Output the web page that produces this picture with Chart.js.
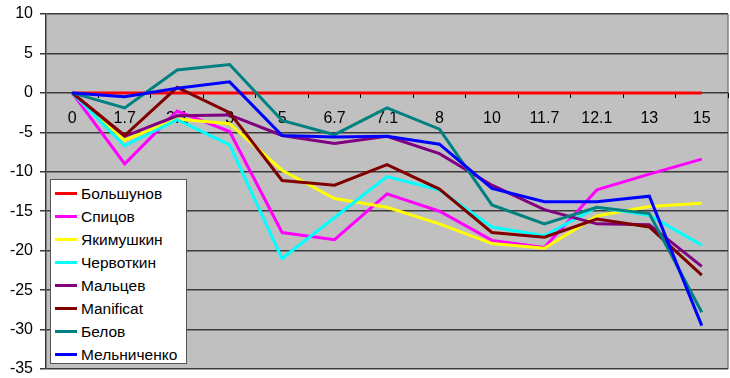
<!DOCTYPE html>
<html>
<head>
<meta charset="utf-8">
<script src="https://cdn.jsdelivr.net/npm/chart.js@4.4.0/dist/chart.umd.min.js"></script>
<style>
  html, body { margin: 0; padding: 0; background: #fff; }
  #wrap { position: relative; width: 730px; height: 378px; }
  #legend {
    position: absolute; left: 50px; top: 179px; width: 137px; height: 185px;
    background: #fff; border: 1px solid #555; box-sizing: border-box;
    font-family: Arial, "Liberation Sans", sans-serif; font-size: 15.5px; color: #000;
    padding-top: 2px;
  }
  .row { display: flex; align-items: center; height: 23px; }
  .swatch { width: 22px; height: 3px; margin-left: 4px; margin-right: 4px; }
</style>
</head>
<body>
<div id="wrap">
  <canvas id="chart" width="730" height="378"></canvas>
  <div id="legend"></div>
</div>
<script>
// ── data ──
const categories = ['0', '1.7', '2.1', '3', '5', '6.7', '7.1', '8', '10', '11.7', '12.1', '13', '15'];

const bolshunov   = [0, 0, 0, 0, 0, 0, 0, 0, 0, 0, 0, 0, 0];
const spitsov     = [0, -9.0, -2.3, -4.9, -17.7, -18.6, -12.8, -15.0, -18.7, -19.6, -12.3, -10.3, -8.4];
const yakimushkin = [0, -6.0, -3.3, -3.9, -9.8, -13.4, -14.5, -16.6, -19.1, -19.7, -15.6, -14.4, -14.0];
const chervotkin  = [0, -6.7, -3.4, -6.6, -21.0, -15.8, -10.6, -12.3, -17.0, -18.1, -14.5, -15.5, -19.3];
const maltsev     = [0, -5.5, -2.9, -2.8, -5.4, -6.4, -5.5, -7.7, -11.7, -14.8, -16.6, -16.7, -22.0];
const manificat   = [0, -5.4, 0.7, -2.5, -11.1, -11.7, -9.1, -12.2, -17.7, -18.3, -16.0, -17.0, -23.1];
const belov       = [0, -1.9, 2.9, 3.6, -3.5, -5.3, -1.9, -4.6, -14.2, -16.6, -14.5, -15.3, -27.8];
const melnichenko = [0, -0.5, 0.6, 1.4, -5.4, -5.6, -5.5, -6.5, -12.1, -13.8, -13.8, -13.1, -29.5];

const seriesNames  = ['Большунов', 'Спицов', 'Якимушкин', 'Червоткин', 'Мальцев', 'Manificat', 'Белов', 'Мельниченко'];
const seriesValues = [bolshunov, spitsov, yakimushkin, chervotkin, maltsev, manificat, belov, melnichenko];
const seriesColors = ['#FF0000', '#FF00FF', '#FFFF00', '#00FFFF', '#800080', '#800000', '#008080', '#0000FF'];

const yMin = -35, yMax = 10, yStep = 5;

const FONT = 'Arial, "Liberation Sans", sans-serif';

// grey plot background + right border
const plotBg = {
  id: 'plotBg',
  beforeDraw(chart) {
    const { ctx, chartArea: a } = chart;
    ctx.save();
    ctx.fillStyle = '#C0C0C0';
    ctx.fillRect(a.left, a.top, a.right - a.left, a.bottom - a.top);
    ctx.strokeStyle = '#808080';
    ctx.lineWidth = 1.5;
    ctx.beginPath();
    ctx.moveTo(a.right, a.top);
    ctx.lineTo(a.right, a.bottom);
    ctx.stroke();
    ctx.restore();
  }
};

new Chart(document.getElementById('chart'), {
  type: 'line',
  data: {
    labels: categories,
    datasets: seriesNames.map((name, i) => ({
      label: name,
      data: seriesValues[i],
      borderColor: seriesColors[i],
      backgroundColor: seriesColors[i],
      borderWidth: 3,
      pointRadius: 0,
      tension: 0,
      order: seriesNames.length - 1 - i   // later series on top, like Excel
    }))
  },
  options: {
    responsive: false,
    animation: false,
    layout: { padding: { top: 14, right: 2, bottom: 9, left: 0 } },
    plugins: { legend: { display: false }, tooltip: { enabled: false } },
    scales: {
      x: {
        position: { y: 0 },
        offset: true,
        grid: { display: true, drawOnChartArea: false, offset: true, tickLength: 5, color: '#000', lineWidth: 1 },
        border: { display: false },
        ticks: { color: '#000', font: { family: FONT, size: 16 }, padding: 11, maxRotation: 0, autoSkip: false }
      },
      y: {
        min: yMin, max: yMax,
        grid: { color: '#3a3a3a', lineWidth: 1.5, tickLength: 6 },
        border: { color: '#3a3a3a', width: 1.5 },
        ticks: { stepSize: yStep, color: '#000', font: { family: FONT, size: 16 }, padding: 7 },
        afterFit(scale) { scale.width = 46; scale.paddingTop = 0; scale.paddingBottom = 0; }
      }
    }
  },
  plugins: [plotBg]
});

// legend as html
const legend = document.getElementById('legend');
legend.innerHTML = seriesNames.map((name, i) => `
  <div class="row"><div class="swatch" style="background:${seriesColors[i]}"></div><span>${name}</span></div>`).join('');
</script>
</body>
</html>
